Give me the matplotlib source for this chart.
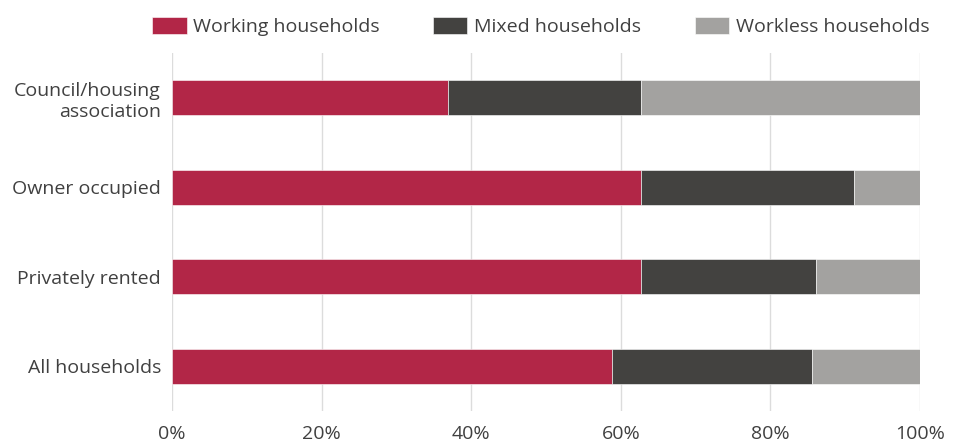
import numpy as np
import matplotlib.pyplot as plt

plt.rcParams['font.family'] = ['Open Sans', 'DejaVu Sans']

categories = ['Council/housing\nassociation', 'Owner occupied', 'Privately rented', 'All households']
working = [36.9, 62.7, 62.7, 58.8]
mixed = [25.8, 28.5, 23.4, 26.8]
workless = [37.3, 8.8, 13.9, 14.4]
series_names = ['Working households', 'Mixed households', 'Workless households']
colors = ['#b22647', '#434240', '#a3a2a0']
ticks = [0, 20, 40, 60, 80, 100]

text_col = '#404040'

fig = plt.figure(figsize=(9.54, 4.41), dpi=100)
ax = fig.add_axes([172 / 954, 1 - 411 / 441, 748 / 954, 358 / 441])

y = np.arange(len(categories))
left = np.zeros(len(categories))
for vals, name, col in zip([working, mixed, workless], series_names, colors):
    ax.barh(y, vals, left=left, height=0.39, color=col, label=name,
            edgecolor='#ffffff', linewidth=0.4, zorder=3)
    left += np.array(vals)

ax.set_ylim(3.5, -0.5)
ax.set_xlim(0, 100)
ax.set_yticks(y)
ax.set_yticklabels(categories, fontsize=14, color=text_col)
ax.set_xticks(ticks)
ax.set_xticklabels([f'{t}%' for t in ticks], fontsize=14, color=text_col)
ax.tick_params(length=0)
ax.tick_params(axis='y', pad=8)
ax.tick_params(axis='x', pad=10)
ax.grid(axis='x', color='#dcdcdc', linewidth=1, zorder=0)
ax.set_axisbelow(True)
for s in ax.spines.values():
    s.set_visible(False)

fig.legend(loc='upper left', bbox_to_anchor=(135 / 954, 1.0), ncol=3, frameon=False,
           fontsize=14, handlelength=1.75, handleheight=0.9, handletextpad=0.35,
           columnspacing=2.75, labelcolor=text_col, borderaxespad=0.5)

fig.savefig('out.png', dpi=100)
